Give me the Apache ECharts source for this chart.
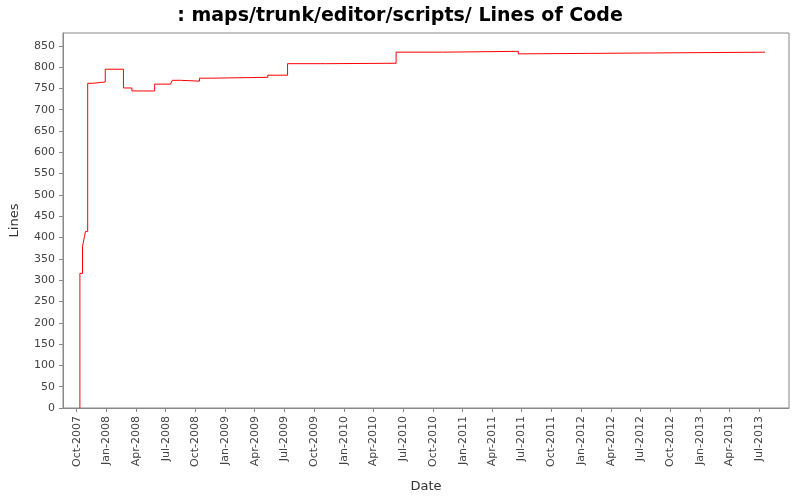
<!DOCTYPE html>
<html><head><meta charset="utf-8">
<script src="https://cdn.jsdelivr.net/npm/echarts@6/dist/echarts.min.js"></script>
<style>html,body{margin:0;background:#fff}#c{width:800px;height:500px}</style>
</head><body><div id="c"></div>
<script>
// step dates and line counts
var dates = ['2007-10-11','2007-10-19','2007-10-25','2007-10-28','2007-11-04','2007-11-19','2007-12-28',
  '2008-02-22','2008-03-19','2008-05-28','2008-07-16','2008-07-21','2008-08-16','2008-10-13','2008-11-21',
  '2009-05-11','2009-07-11','2009-11-05','2010-06-10','2010-10-31','2011-06-21','2011-06-22','2013-07-19'];
var lines = [316,379,402,414,762,765,795,751,744,760,762,769,767,774,776,781,808,809,835,837,831,835,835];
var tickMonths = [];
for (var y = 2007; y <= 2013; y++) for (var m = 0; m < 12; m += 3) {
  var t = Date.UTC(y, m, 1);
  if (t >= Date.UTC(2007, 9, 1) && t <= Date.UTC(2013, 6, 1)) tickMonths.push(t);
}
var monthNames = ['Jan','Feb','Mar','Apr','May','Jun','Jul','Aug','Sep','Oct','Nov','Dec'];

var data = [[Date.UTC(2007,9,11), 0]];
dates.forEach(function (d, i) { data.push([Date.parse(d + 'T00:00:00Z'), lines[i]]); });

var chart = echarts.init(document.getElementById('c'));
var font = 'DejaVu Sans';
chart.setOption({
  backgroundColor: '#fff',
  animation: false,
  title: { text: ': maps/trunk/editor/scripts/ Lines of Code', left: 'center', top: 2,
    textStyle: { fontFamily: font, fontSize: 19, fontWeight: 'bold', color: '#000' } },
  grid: { left: 63, right: 11, top: 33, bottom: 92, show: true, borderColor: '#888', borderWidth: 1 },
  xAxis: {
    type: 'value', min: Date.UTC(2007,7,20), max: Date.UTC(2013,9,1),
    name: 'Date', nameLocation: 'middle', nameGap: 72,
    nameTextStyle: { fontFamily: font, fontSize: 13, color: '#333' },
    axisLine: { lineStyle: { color: '#888' } },
    splitLine: { show: false },
    axisTick: { customValues: tickMonths, lineStyle: { color: '#888' }, length: 4 },
    axisLabel: { customValues: tickMonths, rotate: 90, fontFamily: font, fontSize: 11, color: '#444',
      formatter: function (v) { var d = new Date(v); return monthNames[d.getUTCMonth()] + '-' + d.getUTCFullYear(); } }
  },
  yAxis: {
    type: 'value', min: 0, max: 880, interval: 50,
    name: 'Lines', nameLocation: 'middle', nameGap: 42,
    nameTextStyle: { fontFamily: font, fontSize: 13, color: '#333' },
    axisLine: { show: true, lineStyle: { color: '#888' } },
    axisTick: { show: true, lineStyle: { color: '#888' }, length: 4 },
    splitLine: { show: false },
    axisLabel: { fontFamily: font, fontSize: 11, color: '#444', showMaxLabel: false }
  },
  series: [{ type: 'line', step: 'end', data: data, showSymbol: false,
    lineStyle: { color: '#ff0000', width: 1 } }]
});
</script></body></html>
